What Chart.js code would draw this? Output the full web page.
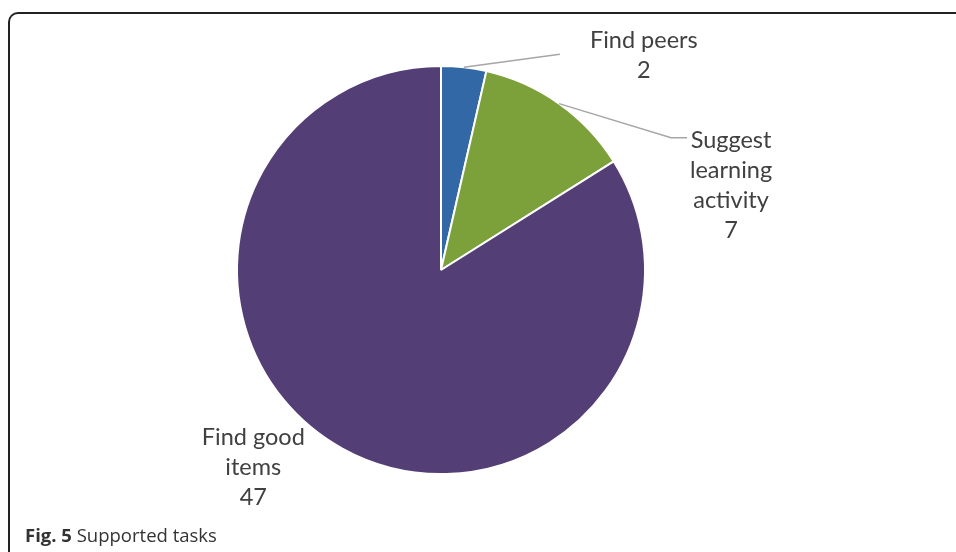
<!DOCTYPE html>
<html>
<head>
<meta charset="utf-8">
<script src="https://cdn.jsdelivr.net/npm/chart.js@4"></script>
<style>
    body { margin: 0; background: #fff; width: 956px; height: 552px; overflow: hidden; position: relative; }
    #frame {
        position: absolute; left: 8px; top: 12px; width: 1000px; height: 600px;
        border-top: 2px solid #222; border-left: 2px solid #222; border-top-left-radius: 10px;
    }
    #wrap { position: absolute; left: 0; top: 0; width: 956px; height: 552px; }
    #caption {
        position: absolute; left: 25px; top: 522px;
        font-family: "Open Sans", sans-serif; font-size: 18.5px; color: #333;
    }
</style>
</head>
<body>
<div id="frame"></div>
<div id="wrap"><canvas id="pieChart"></canvas></div>
<div id="caption"><b>Fig. 5</b> Supported tasks</div>
<script>
// ---------- Data ----------

const categories = ["Find peers", "Suggest learning activity", "Find good items"];
const values = [2, 7, 47];
const labelLines = [["Find peers"], ["Suggest", "learning", "activity"], ["Find good", "items"]];
const colors = ["#3268a6", "#7ca13b", "#543e76"];

// -------- Label placement (offsets from the slice's outer edge) --------

const placement = [
    { dx: 180, dy: -27, leader: [[96, -13]] },
    { dx: 172, dy: 37, leader: [[112, 34], [128, 34]] },
    { dx: -89, dy: -11, leader: null }
];

const sliceLabels = {
    id: "sliceLabels",
    afterDatasetsDraw(chart) {
        const ctx = chart.ctx;
        const arcs = chart.getDatasetMeta(0).data;
        ctx.save();
        arcs.forEach((arc, i) => {
            const mid = (arc.startAngle + arc.endAngle) / 2;
            const ex = arc.x + Math.cos(mid) * arc.outerRadius;
            const ey = arc.y + Math.sin(mid) * arc.outerRadius;
            const p = placement[i];

            if (p.leader) {
                ctx.strokeStyle = "#a6a6a6";
                ctx.lineWidth = 1.5;
                ctx.beginPath();
                ctx.moveTo(ex, ey);
                p.leader.forEach(pt => ctx.lineTo(ex + pt[0], ey + pt[1]));
                ctx.stroke();
            }

            ctx.fillStyle = "#404040";
            ctx.font = "23.5px Lato";
            ctx.textAlign = "center";
            ctx.textBaseline = "middle";
            const lines = labelLines[i].concat([String(values[i])]);
            lines.forEach((t, k) => {
                ctx.fillText(t, ex + p.dx, ey + p.dy + k * 30);
            });
        });
        ctx.restore();
    }
};

// -------- Create Chart --------

new Chart(document.getElementById("pieChart"), {
    type: "pie",
    data: {
        labels: categories,
        datasets: [{
            data: values,
            backgroundColor: colors,
            borderColor: "#ffffff",
            borderWidth: 2
        }]
    },
    options: {
        responsive: true,
        maintainAspectRatio: false,
        animation: false,
        layout: {
            padding: { left: 236, right: 310, top: 65, bottom: 77 }
        },
        plugins: {
            legend: { display: false },
            tooltip: { enabled: false }
        }
    },
    plugins: [sliceLabels]
});
</script>
</body>
</html>
